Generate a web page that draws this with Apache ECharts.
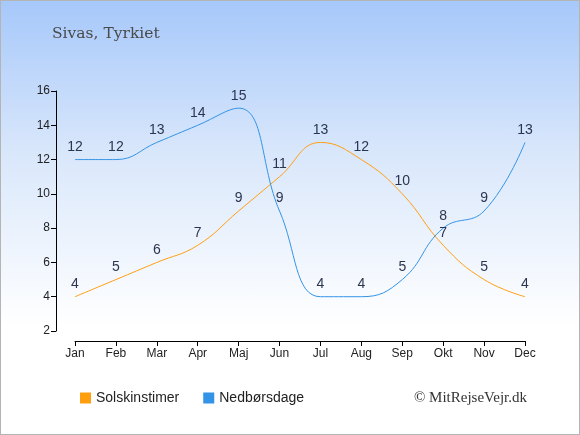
<!DOCTYPE html>
<html>
<head>
<meta charset="utf-8">
<script src="https://cdn.jsdelivr.net/npm/echarts@6/dist/echarts.min.js"></script>
<style>
  html, body { margin: 0; padding: 0; }
  #chart { width: 578px; height: 433px; border: 1px solid #b4b4b4;
    background: linear-gradient(to bottom, #a6c8fa 0%, #d9e7fb 35%, #ffffff 75%, #ffffff 100%); }
</style>
</head>
<body>
<div id="chart"></div>
<script>
    var months = ['Jan', 'Feb', 'Mar', 'Apr', 'Maj', 'Jun', 'Jul', 'Aug', 'Sep', 'Okt', 'Nov', 'Dec'];
    var sunHours = [4, 5, 6, 7, 9, 11, 13, 12, 10, 7, 5, 4];
    var rainDays = [12, 12, 13, 14, 15, 9, 4, 4, 5, 8, 9, 13];
    var yTicks = {min: 2, max: 16, interval: 2};
    var sunColor = '#ff9e0f', rainColor = '#3393e6';

    var chart = echarts.init(document.getElementById('chart'));

    var labelStyle = {
        show: true,
        position: 'top',
        distance: 5,
        color: '#2b3550',
        fontSize: 14,
        fontFamily: 'Arial, Liberation Sans, sans-serif'
    };

    chart.setOption({
        animation: false,
        title: {
            text: 'Sivas, Tyrkiet',
            left: 46,
            top: 20,
            textStyle: {
                fontFamily: 'DejaVu Serif, serif',
                fontWeight: 'normal',
                fontSize: 15.5,
                color: '#4a4a4a'
            }
        },
        grid: { left: 74, right: 54, top: 90, bottom: 103 },
        xAxis: {
            type: 'category',
            data: months,
            boundaryGap: false,
            offset: 10,
            axisLine: { lineStyle: { color: '#000', width: 1 } },
            axisTick: { alignWithLabel: true, length: 5, lineStyle: { color: '#000' } },
            axisLabel: { color: '#222', fontSize: 12, margin: 7, fontFamily: 'Arial, Liberation Sans, sans-serif' },
            splitLine: { show: false }
        },
        yAxis: {
            type: 'value',
            min: yTicks.min,
            max: yTicks.max,
            interval: yTicks.interval,
            offset: 19,
            axisLine: { show: true, lineStyle: { color: '#000', width: 1 } },
            axisTick: { show: true, length: 5, inside: false, lineStyle: { color: '#000' } },
            axisLabel: { color: '#222', fontSize: 12, margin: 6, fontFamily: 'Arial, Liberation Sans, sans-serif' },
            splitLine: { show: false }
        },
        legend: {
            bottom: 24,
            left: 74,
            itemWidth: 11,
            itemHeight: 11,
            itemGap: 24,
            icon: 'rect',
            textStyle: { fontSize: 14, color: '#222', fontFamily: 'Arial, Liberation Sans, sans-serif' },
            data: [
                { name: 'Solskinstimer', itemStyle: { color: sunColor } },
                { name: 'Nedbørsdage', itemStyle: { color: rainColor } }
            ]
        },
        graphic: [{
            type: 'text',
            right: 52,
            bottom: 28,
            style: {
                text: '© MitRejseVejr.dk',
                fontFamily: 'Liberation Serif, serif',
                fontSize: 15,
                fill: '#333'
            }
        }],
        series: [{
            name: 'Solskinstimer',
            type: 'line',
            smooth: 0.45,
            symbol: 'circle',
            symbolSize: 1,
            showSymbol: true,
            itemStyle: { color: 'rgba(0,0,0,0)' },
            lineStyle: { width: 1, color: sunColor },
            label: labelStyle,
            data: sunHours
        }, {
            name: 'Nedbørsdage',
            type: 'line',
            smooth: 0.45,
            symbol: 'circle',
            symbolSize: 1,
            showSymbol: true,
            itemStyle: { color: 'rgba(0,0,0,0)' },
            lineStyle: { width: 1, color: rainColor },
            label: labelStyle,
            data: rainDays
        }]
    });
</script>
</body>
</html>
